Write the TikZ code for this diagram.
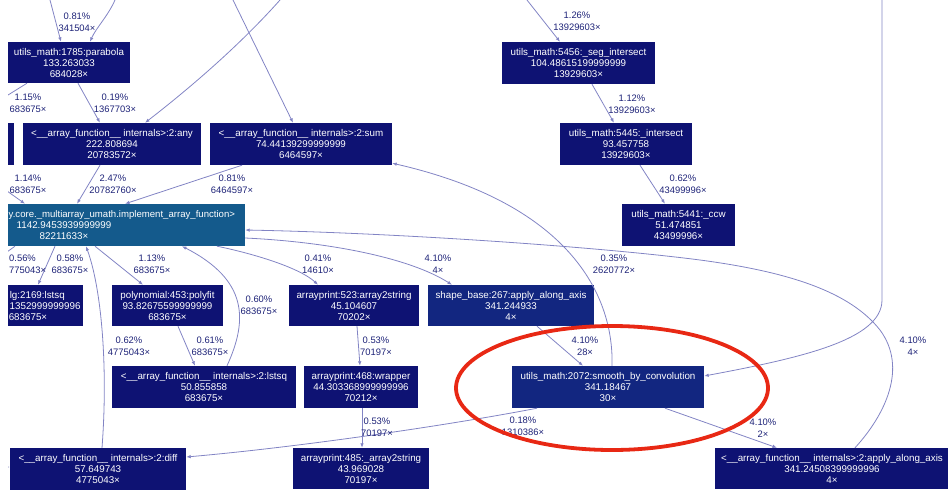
\documentclass[tikz,border=0pt]{standalone}
\usepackage{fontspec}
\setmainfont{Liberation Sans}
\usetikzlibrary{arrows.meta}
\definecolor{boxnavy}{RGB}{14,18,115}
\definecolor{implblue}{RGB}{20,90,140}
\definecolor{midnavy}{RGB}{18,38,128}
\definecolor{edgecol}{RGB}{130,132,196}
\definecolor{labcol}{RGB}{30,35,120}
\definecolor{redring}{RGB}{232,40,20}
\begin{document}
\begin{tikzpicture}[x=1pt,y=-1pt,
  box/.style={rectangle, fill=boxnavy, text=white, inner sep=0pt, align=center,
    font=\fontsize{9.8}{11}\selectfont, minimum height=42pt},
  btxt/.style={text=white, inner sep=0pt, font=\fontsize{9.8}{11}\selectfont},
  lab/.style={text=labcol, inner sep=0pt, align=center, font=\fontsize{9.4}{12}\selectfont},
  call/.style={draw=edgecol, line width=0.8pt, -{Latex[length=4.5pt,width=3.5pt]}},
  plain/.style={draw=edgecol, line width=0.8pt}]
\useasboundingbox (0,0) rectangle (948,491);
\begin{scope}
\clip (8,0) rectangle (948,491);
% ---------- nodes ----------
\node[box, minimum width=122pt, minimum height=41pt] (parabola) at (69,62.5) {utils\_math:1785:parabola\\133.263033\\684028×};
\node[box, minimum width=178pt] (any) at (112,144) {<\_\_array\_function\_\_ internals>:2:any\\222.808694\\20783572×};
\node[box, minimum width=14pt] (leftbar) at (7,144) {};
\node[box, minimum width=182pt] (sum) at (301,144) {<\_\_array\_function\_\_ internals>:2:sum\\74.44139299999999\\6464597×};
\node[box, minimum width=153pt] (seg) at (578.5,63) {utils\_math:5456:\_seg\_intersect\\104.48615199999999\\13929603×};
\node[box, minimum width=132pt] (inter) at (626,144) {utils\_math:5445:\_intersect\\93.457758\\13929603×};
\node[box, minimum width=113pt] (ccw) at (678.5,225) {utils\_math:5441:\_ccw\\51.474851\\43499996×};
\node[box, fill=implblue, minimum width=245pt] (impl) at (122.5,225) {};
\node[btxt, anchor=base west, font=\fontsize{9.6}{11}\selectfont] (implA) at (8.5,217.5) {y.core.\_multiarray\_umath.implement\_array\_function>};
\node[btxt, anchor=base] (implB) at (64,228.5) {1142.9453939999999};
\node[btxt, anchor=base] (implC) at (64,239.5) {82211633×};
\node[box, minimum width=83pt, minimum height=41pt] (lstsqL) at (41.5,305.5) {};
\node[btxt, anchor=base east] (lgA) at (65,298.5) {lg:2169:lstsq};
\node[btxt, anchor=base west] (lgB) at (9.5,309.5) {1352999999996};
\node[btxt, anchor=base] (lgC) at (28,320.5) {683675×};
\node[box, minimum width=111pt, minimum height=41pt] (polyfit) at (167.5,305.5) {polynomial:453:polyfit\\93.82675599999999\\683675×};
\node[box, minimum width=130pt, minimum height=41pt] (a2s523) at (354,305.5) {arrayprint:523:array2string\\45.104607\\70202×};
\node[box, fill=midnavy, minimum width=166pt, minimum height=41pt] (shapebase) at (511,305.5) {shape\_base:267:apply\_along\_axis\\341.244933\\4×};
\node[box, minimum width=184pt] (lstsqI) at (204,387) {<\_\_array\_function\_\_ internals>:2:lstsq\\50.855858\\683675×};
\node[box, minimum width=114pt] (wrapper) at (361,387) {arrayprint:468:wrapper\\44.303368999999996\\70212×};
\node[box, fill=midnavy, minimum width=192pt] (smooth) at (608,387) {utils\_math:2072:smooth\_by\_convolution\\341.18467\\30×};
\node[box, minimum width=176pt] (diff) at (98,469) {<\_\_array\_function\_\_ internals>:2:diff\\57.649743\\4775043×};
\node[box, minimum width=136pt, minimum height=41pt] (a2s485) at (361,468.5) {arrayprint:485:\_array2string\\43.969028\\70197×};
\node[box, minimum width=234pt, minimum height=41pt] (applyI) at (832,468.5) {<\_\_array\_function\_\_ internals>:2:apply\_along\_axis\\341.24508399999996\\4×};
% ---------- free ends ----------
\coordinate (t1) at (50,0);
\coordinate (t2) at (115,0);
\coordinate (t4) at (280,0);
\coordinate (t5) at (233,0);
\coordinate (t10) at (527,0);
\coordinate (t13) at (882,0);
\coordinate (w6) at (0,100);
\coordinate (w7) at (0,186);
\coordinate (w21) at (0,257);
\coordinate (w29) at (0,467);
% ---------- edges ----------
\draw[call] (t1) -- ([xshift=-8pt]parabola.north);
\draw[call] (t2) .. controls (108,16) and (96,28) .. ([xshift=21pt]parabola.north);
\draw[call] ([xshift=9pt]parabola.south) -- ([xshift=-12pt]any.north);
\draw[call] (t4) .. controls (240,45) and (190,88) .. ([xshift=33pt]any.north);
\draw[call] (t5) -- ([xshift=-8pt]sum.north);
\draw[plain] ([xshift=-42pt]parabola.south) -- (w6);
\draw[call] (w7) -- ([xshift=-97.5pt]impl.north);
\draw[call] ([xshift=-12pt]any.south) -- ([xshift=-45.5pt]impl.north);
\draw[call] ([xshift=-59pt]sum.south) -- ([xshift=2.5pt]impl.north);
\draw[call] (t10) -- ([xshift=-18.5pt]seg.north);
\draw[call] ([xshift=13.5pt]seg.south) -- ([xshift=-12pt]inter.north);
\draw[call] ([xshift=14pt]inter.south) -- ([xshift=-13.5pt]ccw.north);
\draw[call] (t13) -- (882,300) .. controls (882,340) and (800,358) .. ([yshift=11pt]smooth.east);
\draw[call] ([xshift=23pt]applyI.north) .. controls (885,415) and (908,368) .. (880,330)
   .. controls (850,292) and (790,272) .. (700,260)
   .. controls (600,247) and (400,233) .. ([yshift=-5pt]impl.east);
\draw[call] ([xshift=94.5pt]impl.south) .. controls (255,254) and (300,268) .. ([xshift=-36pt]a2s523.north);
\draw[call] ([yshift=-13pt]impl.east) .. controls (330,242) and (410,258) .. ([xshift=-59pt]shapebase.north);
\draw[call] ([xshift=23pt]lstsqI.north) .. controls (248,320) and (248,280) .. ([xshift=59.5pt]impl.south);
\draw[call] ([xshift=10.5pt]polyfit.south) -- ([xshift=-9pt]lstsqI.north);
\draw[call] ([xshift=-27.5pt]impl.south) -- ([xshift=-24.5pt]polyfit.north);
\draw[call] ([xshift=-67.5pt]impl.south) -- ([xshift=-3.5pt]lstsqL.north);
\draw[plain] ([xshift=-107.5pt]impl.south) -- (w21);
\draw[call] ([xshift=4pt]diff.north) .. controls (108,370) and (102,290) .. ([xshift=-36.5pt]impl.south);
\draw[call] ([xshift=26pt]shapebase.south) -- ([xshift=-25pt]smooth.north);
\draw[call] ([xshift=4pt]smooth.north) .. controls (614,300) and (575,205) .. ([yshift=2pt]sum.south east);
\draw[call] ([xshift=57pt]smooth.south) -- ([xshift=-55pt]applyI.north);
\draw[call] ([xshift=-71pt]smooth.south) .. controls (450,425) and (300,447) .. ([yshift=12pt]diff.east);
\draw[call] ([xshift=3pt]a2s523.south) -- ([xshift=-1pt]wrapper.north);
\draw[call] ([xshift=1pt]wrapper.south) -- ([xshift=1pt]a2s485.north);
\draw[call] (w29) -- ([yshift=2pt]diff.west);
% ---------- labels ----------
\node[lab] (l1) at (77,22) {0.81\%\\341504×};
\node[lab] (l3) at (115,103) {0.19\%\\1367703×};
\node[lab] (l6) at (28,103) {1.15\%\\683675×};
\node[lab] (l7) at (28,184) {1.14\%\\683675×};
\node[lab] (l8) at (113,184) {2.47\%\\20782760×};
\node[lab] (l9) at (232,184) {0.81\%\\6464597×};
\node[lab] (l10) at (577,21) {1.26\%\\13929603×};
\node[lab] (l11) at (632,104) {1.12\%\\13929603×};
\node[lab] (l12) at (683,184) {0.62\%\\43499996×};
\node[lab] (l14) at (913,346) {4.10\%\\4×};
\node[lab] (l15) at (318,264) {0.41\%\\14610×};
\node[lab] (l16) at (438,264) {4.10\%\\4×};
\node[lab] (l17) at (259,305) {0.60\%\\683675×};
\node[lab] (l18) at (210,346) {0.61\%\\683675×};
\node[lab] (l19) at (152,264) {1.13\%\\683675×};
\node[lab] (l20) at (70,264) {0.58\%\\683675×};
\node[lab, align=left, anchor=west] (l21) at (9,264) {0.56\%\\775043×};
\node[lab] (l22) at (129,346) {0.62\%\\4775043×};
\node[lab] (l23) at (585,346) {4.10\%\\28×};
\node[lab] (l24) at (614,264) {0.35\%\\2620772×};
\node[lab] (l25) at (763,428) {4.10\%\\2×};
\node[lab] (l26) at (523,426) {0.18\%\\1310386×};
\node[lab] (l27) at (376,346) {0.53\%\\70197×};
\node[lab] (l28) at (377,427) {0.53\%\\70197×};
% ---------- highlight ----------
\draw[redring, line width=3.8pt] (612,388) ellipse [x radius=156pt, y radius=62pt];
\end{scope}
\end{tikzpicture}
\end{document}
